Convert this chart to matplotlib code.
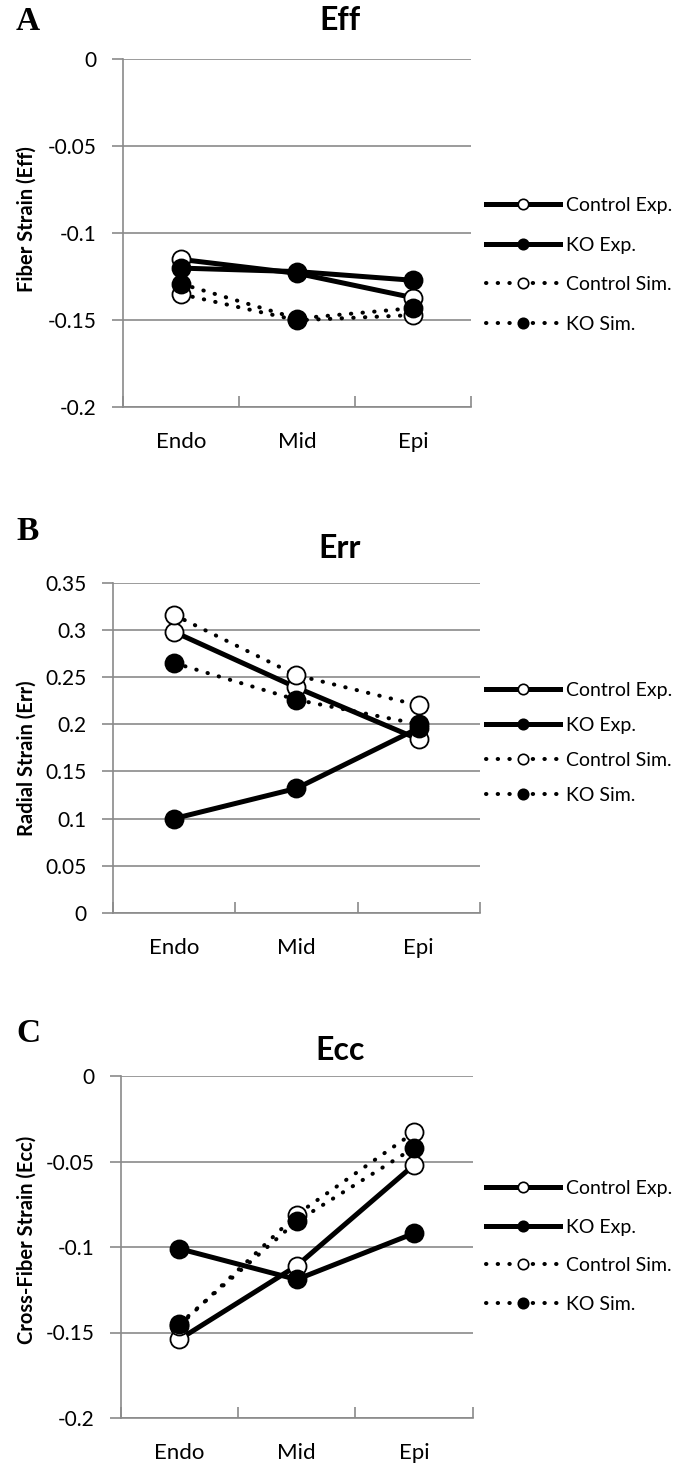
import matplotlib.pyplot as plt
from matplotlib.lines import Line2D

plt.rcParams['font.family'] = ['Lato', 'DejaVu Sans']

# categories and series
positions = ['Endo', 'Mid', 'Epi']
series_names = ['Control Exp.', 'KO Exp.', 'Control Sim.', 'KO Sim.']

# Panel A: fiber strain
eff_ctrl_exp = [-0.115, -0.123, -0.137]
eff_ko_exp = [-0.120, -0.122, -0.127]
eff_ctrl_sim = [-0.135, -0.150, -0.147]
eff_ko_sim = [-0.129, -0.149, -0.143]

# Panel B: radial strain
err_ctrl_exp = [0.298, 0.239, 0.184]
err_ko_exp = [0.100, 0.132, 0.196]
err_ctrl_sim = [0.316, 0.252, 0.220]
err_ko_sim = [0.265, 0.226, 0.200]

# Panel C: cross-fiber strain
ecc_ctrl_exp = [-0.154, -0.111, -0.052]
ecc_ko_exp = [-0.101, -0.119, -0.092]
ecc_ctrl_sim = [-0.146, -0.081, -0.033]
ecc_ko_sim = [-0.145, -0.085, -0.042]

eff_ticks = [0, -0.05, -0.1, -0.15, -0.2]
err_ticks = [0, 0.05, 0.1, 0.15, 0.2, 0.25, 0.3, 0.35]
ecc_ticks = [0, -0.05, -0.1, -0.15, -0.2]

W, H = 675, 1472
fig = plt.figure(figsize=(W / 100, H / 100), dpi=100)

GRID = '#8a8a8a'
styles = [
    dict(ls='-', mfc='white'),
    dict(ls='-', mfc='black'),
    dict(ls=(0, (0.1, 2.8)), mfc='white'),
    dict(ls=(0, (0.1, 2.8)), mfc='black'),
]


def px_rect(left, right, top, bottom):
    return [left / W, 1 - bottom / H, (right - left) / W, (bottom - top) / H]


def draw_panel(rect, letter, letter_y, title, title_y, ylabel, ylabel_y,
               ticks, series, legend_y, legend_gap):
    ax = fig.add_axes(rect)
    x = list(range(len(positions)))
    for k, (vals, st) in enumerate(zip(series, styles)):
        lw = 3.6 if st['ls'] == '-' else 2.9
        ax.plot(x, vals, color='black', lw=lw, ls=st['ls'],
                dash_capstyle='round', marker='o', ms=13, mfc=st['mfc'],
                mec='black', mew=1.3, zorder=3 + k, label=series_names[k],
                clip_on=False)
    ax.set_xlim(-0.5, len(positions) - 0.5)
    ax.set_ylim(min(ticks), max(ticks))
    ax.set_yticks(ticks)
    ax.set_yticklabels(['{:g}'.format(t) for t in ticks])
    ax.set_xticks([i - 0.5 for i in range(len(positions) + 1)])
    ax.set_xticklabels([])
    ax.set_xticks(x, minor=True)
    ax.set_xticklabels(positions, minor=True)
    ax.tick_params(axis='x', which='major', direction='in', length=8,
                   width=1.2, color=GRID)
    ax.tick_params(axis='x', which='minor', length=0, pad=18, labelsize=16)
    ax.tick_params(axis='y', direction='out', length=8, width=1.2,
                   color=GRID, pad=11, labelsize=15)
    ax.grid(axis='y', color=GRID, lw=1.2)
    ax.set_axisbelow(True)
    for s in ['top', 'right']:
        ax.spines[s].set_visible(False)
    for s in ['left', 'bottom']:
        ax.spines[s].set_color(GRID)
        ax.spines[s].set_linewidth(1.2)
    ax.set_ylabel(ylabel, fontsize=14.5, fontweight='bold')
    # right edge of the rotated label sits about 37 px from the figure edge
    left_px = rect[0] * W
    width_px = rect[2] * W
    ax.yaxis.set_label_coords((37 - left_px) / width_px, ylabel_y)

    fig.text(340 / W, 1 - title_y / H, title, fontsize=23, fontweight='bold',
             ha='center', va='center')
    fig.text(28 / W, 1 - letter_y / H, letter, fontsize=24, fontweight='bold',
             family='Liberation Serif', ha='center', va='center')

    handles = []
    for k, st in enumerate(styles):
        lw = 3.6 if st['ls'] == '-' else 2.9
        handles.append(Line2D([], [], color='black', lw=lw, ls=st['ls'],
                              dash_capstyle='round', marker='o', ms=7.5,
                              mfc=st['mfc'], mec='black', mew=1.2))
    fs = 14
    fig.legend(handles, series_names, loc='upper left',
               bbox_to_anchor=(486 / W, 1 - (legend_y - 6) / H),
               bbox_transform=fig.transFigure, frameon=False, fontsize=fs,
               borderpad=0, borderaxespad=0, handlelength=3.8,
               handletextpad=0.3, labelspacing=(legend_gap - 17.5) / 19.4,
               numpoints=1)
    return ax


draw_panel(px_rect(123, 471, 59.3, 407.3), 'A', 22, 'Eff', 21,
           'Fiber Strain (Eff)', 0.54, eff_ticks,
           [eff_ctrl_exp, eff_ko_exp, eff_ctrl_sim, eff_ko_sim], 203, 40)
draw_panel(px_rect(112.7, 480, 582.7, 913), 'B', 532, 'Err', 549,
           'Radial Strain (Err)', 0.47, err_ticks,
           [err_ctrl_exp, err_ko_exp, err_ctrl_sim, err_ko_sim], 688, 35.5)
draw_panel(px_rect(120.7, 472.7, 1076, 1418), 'C', 1034, 'Ecc', 1050,
           'Cross-Fiber Strain (Ecc)', 0.52, ecc_ticks,
           [ecc_ctrl_exp, ecc_ko_exp, ecc_ctrl_sim, ecc_ko_sim], 1186, 39)

fig.savefig('out.png', dpi=100)
